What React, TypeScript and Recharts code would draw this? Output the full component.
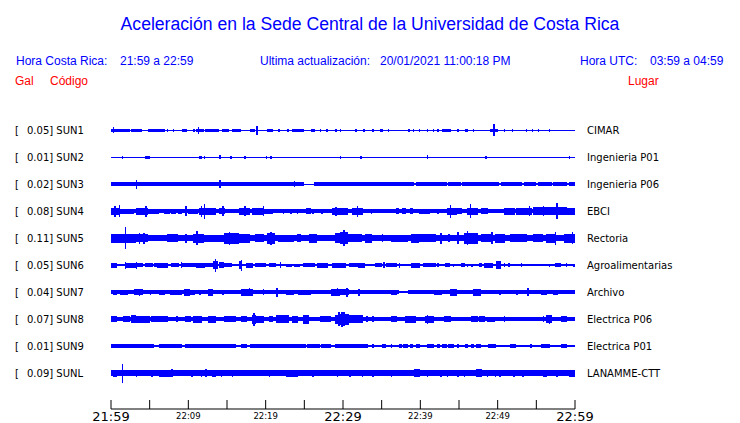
import { ComposedChart, Area, XAxis, YAxis } from "recharts";

// [from minute, to minute, half amplitude]; later entries override earlier ones
type Burst = [number, number, number];

const STATIONS = ["SUN1", "SUN2", "SUN3", "SUN4", "SUN5", "SUN6", "SUN7", "SUN8", "SUN9", "SUNL"];
const PEAKS = ["0.05", "0.01", "0.02", "0.08", "0.11", "0.05", "0.04", "0.07", "0.01", "0.09"];
const PLACES = [
  "CIMAR", "Ingenieria P01", "Ingenieria P06", "EBCI", "Rectoria",
  "Agroalimentarias", "Archivo", "Electrica P06", "Electrica P01", "LANAMME-CTT",
];
const BASE = [0.5, 0.5, 1.7, 1.7, 2.7, 1.2, 1.7, 2, 0.6, 2.7];

const SUN1: Burst[] = [
  [0, 0.9, 1.5], [0.3, 0.3, 3], [1.2, 2.2, 1.5], [2.5, 3.7, 1.5], [4.8, 6.7, 1.5], [7.2, 7.2, 1.5],
  [8.0, 8.0, 1.5], [9.2, 9.6, 1.5], [10.5, 10.5, 1.5], [11.1, 11.8, 1.5], [11.2, 11.2, 3.5],
  [12.2, 13.1, 1.5], [13.4, 13.8, 1.5], [14.4, 15.0, 1.5], [15.6, 16.3, 1.5], [16.7, 16.7, 1.5],
  [18.0, 18.4, 1.5], [18.9, 18.9, 4.5], [20.2, 20.8, 1.5], [21.6, 21.6, 1.5], [22.8, 22.8, 1.5],
  [23.4, 24.8, 1.5], [25.7, 26.1, 1.5], [27.0, 27.0, 1.5], [27.7, 27.7, 1.5], [29.0, 29.0, 1.5],
  [29.6, 29.6, 1.5], [31.5, 31.5, 1.5], [32.5, 32.5, 1.5], [33.9, 33.9, 1.5], [34.8, 35.0, 1.5],
  [35.7, 35.7, 1.5], [38.4, 38.4, 1.5], [39.0, 39.0, 1.5], [39.7, 39.7, 1.5], [40.7, 40.9, 1.5],
  [41.5, 41.5, 1.5], [42.2, 42.2, 1.5], [42.9, 43.8, 1.5], [44.7, 44.7, 1.5], [45.8, 46.0, 1.5],
  [46.8, 46.8, 1.5], [49.0, 49.8, 1.5], [49.4, 49.4, 6], [49.9, 49.9, 1.5], [50.8, 50.8, 1.5],
  [51.8, 51.8, 1.5], [53.5, 53.5, 1.5], [54.4, 54.4, 1.5], [55.1, 55.3, 1.5], [56.6, 56.6, 1.5],
  [59.9, 59.9, 1.5],
];
const SUN2: Burst[] = [
  [1.4, 1.4, 1.5], [4.4, 4.8, 1.5], [11.3, 11.6, 1.5], [12.0, 12.0, 1.5], [14.0, 14.0, 2],
  [15.4, 15.4, 1.5], [17.1, 17.1, 1.5], [20.0, 20.0, 1.5], [20.7, 20.7, 1.5], [29.5, 29.5, 1.5],
  [32.1, 32.1, 1.5], [40.9, 40.9, 2], [48.4, 48.4, 1.5], [59.2, 59.2, 1.5],
];
const SUN3: Burst[] = [
  [3.2, 3.2, 4.5], [14.0, 14.0, 4], [23.5, 23.5, 3], [25.0, 26.0, 0.5], [39.1, 39.1, 1],
  [43.4, 43.4, 1], [45.2, 45.2, 1], [50.3, 50.3, 1], [53.2, 53.2, 1], [55.0, 55.0, 1],
  [57.0, 57.0, 1], [59.0, 59.0, 1],
];
const SUN4: Burst[] = [
  [0, 1.2, 3.5], [0.4, 0.4, 5.5], [0.9, 0.9, 6], [1.2, 2.7, 2.5], [3.1, 4.8, 3.5], [4.4, 4.4, 5.5],
  [4.8, 6.1, 2.5], [6.8, 7.4, 2.5], [7.8, 8.2, 2.5], [8.6, 9.1, 2.5], [9.6, 9.6, 5],
  [10.0, 11.1, 2.5], [11.3, 13.4, 3.5], [11.7, 11.7, 5.5], [11.9, 11.9, 7.5], [13.9, 14.7, 3],
  [14.3, 14.3, 5], [16.5, 17.8, 3.5], [17.1, 17.1, 5], [18.2, 19.9, 3.5], [19.5, 19.5, 5],
  [19.9, 20.8, 2.5], [22.1, 22.1, 2.5], [23.1, 23.1, 2.5], [24.0, 24.0, 2.5], [25.1, 25.5, 3],
  [26.0, 26.0, 2.5], [27.2, 27.2, 2.5], [28.5, 30.3, 3.5], [29.0, 29.0, 4.5], [31.1, 32.4, 3.5],
  [31.7, 31.7, 5.5], [33.5, 33.5, 2.5], [36.7, 37.0, 3], [37.6, 38.0, 3], [38.5, 38.9, 3],
  [39.7, 41.0, 2.5], [42.1, 42.1, 2.5], [43.4, 44.5, 3.5], [43.8, 43.8, 6.5], [44.7, 45.3, 3],
  [46.0, 47.3, 3.5], [46.4, 46.4, 7], [47.7, 48.6, 3], [50.7, 52.0, 3.5], [52.4, 54.2, 3.5],
  [54.0, 54.0, 5], [54.6, 57.2, 4], [55.8, 55.8, 5], [57.2, 58.9, 4], [57.6, 57.6, 8],
  [58.9, 60, 3.5],
];
const SUN5: Burst[] = [
  [0, 1.8, 4.5], [1.8, 2.0, 11], [2.0, 3.1, 4.5], [3.1, 4.6, 4], [3.5, 3.5, 5.5], [4.2, 4.2, 5.5],
  [7.2, 8.3, 4], [9.6, 9.6, 4.5], [10.6, 12.1, 4.5], [11.1, 11.1, 7], [12.1, 14.3, 3.5],
  [14.5, 16.5, 5.5], [15.2, 15.2, 6.5], [16.5, 17.8, 4.5], [18.6, 19.5, 4], [20.1, 21.0, 5.5],
  [20.5, 20.5, 6.5], [21.6, 23.4, 3.5], [24.0, 24.4, 4], [25.5, 26.4, 4.5], [29.0, 30.3, 5],
  [29.6, 30.5, 6], [30.0, 30.0, 8], [30.5, 32.2, 4], [32.8, 33.5, 4.5], [35.0, 35.0, 4],
  [36.1, 38.2, 3.5], [38.7, 39.5, 4.5], [39.9, 41.7, 4], [42.5, 42.5, 5.5], [43.6, 43.6, 4],
  [44.9, 44.9, 6], [45.5, 47.3, 5.5], [46.0, 46.0, 7], [47.9, 49.0, 4], [49.2, 49.2, 6],
  [49.6, 50.7, 4.5], [51.6, 53.5, 4], [54.6, 55.5, 4], [56.3, 57.2, 4.5], [57.4, 57.4, 6.5],
  [58.5, 60, 4.5], [59.5, 59.5, 6],
];
const SUN6: Burst[] = [
  [0, 0.7, 2.5], [1.8, 3.1, 2.5], [1.8, 1.8, 3.5], [3.2, 3.2, 3.5], [3.4, 4.0, 2], [4.4, 5.2, 2],
  [5.5, 5.9, 2], [6.1, 7.2, 2.5], [7.8, 8.6, 2], [9.0, 10.0, 2], [8.9, 8.9, 3], [10.2, 10.9, 2],
  [11.1, 12.2, 2.5], [12.2, 13.0, 2], [13.2, 13.7, 4], [13.4, 13.4, 6.5], [13.9, 14.3, 3],
  [14.7, 15.4, 2], [16.5, 16.9, 4], [16.8, 16.8, 5.5], [17.3, 18.2, 2.5], [18.6, 19.9, 2],
  [20.3, 21.2, 2], [21.9, 21.9, 3], [22.7, 23.1, 1.5], [23.6, 24.2, 1.5], [24.9, 26.2, 2],
  [26.6, 27.7, 2.5], [28.5, 29.4, 2.5], [29.6, 30.2, 2.5], [30.7, 31.8, 2], [32.0, 32.6, 2.5],
  [34.3, 34.8, 2], [35.2, 35.2, 3], [35.6, 36.7, 2], [37.1, 37.1, 2.5], [38.9, 39.7, 2.5],
  [40.4, 41.7, 2], [42.1, 42.1, 2], [43.2, 43.6, 2], [44.3, 44.3, 1.5], [45.1, 45.5, 2],
  [46.0, 46.0, 1.5], [46.6, 46.6, 1.5], [47.5, 47.9, 2], [48.3, 49.2, 2.5], [49.9, 50.1, 4],
  [50.7, 50.7, 2], [51.4, 51.4, 2], [52.9, 52.9, 2], [56.5, 56.5, 1.5], [57.4, 58.0, 2],
  [58.8, 58.8, 2], [59.8, 59.8, 1.5],
];
const SUN7: Burst[] = [
  [0.1, 0.7, 2.5], [1.2, 2.0, 2.5], [3.0, 4.0, 3], [3.5, 3.5, 3.5], [5.0, 5.0, 2.5],
  [6.3, 6.8, 2.5], [7.6, 9.1, 2.5], [9.3, 10.0, 3.5], [10.2, 10.6, 2.5], [11.3, 11.3, 2.5],
  [12.6, 13.0, 3.5], [14.3, 14.3, 2.5], [16.9, 18.2, 3.5], [17.8, 17.8, 4], [19.5, 19.7, 3],
  [21.4, 21.4, 4.5], [22.7, 23.4, 2.5], [24.2, 25.5, 2.5], [28.3, 29.4, 3.5], [29.2, 29.2, 4],
  [29.6, 30.5, 3], [30.4, 30.4, 4.5], [32.0, 35.4, 2], [32.0, 32.0, 3.5], [36.1, 36.9, 2.5],
  [37.1, 38.2, 0.6], [38.4, 41.2, 2], [41.9, 42.5, 2.5], [43.8, 44.5, 3.5], [46.8, 47.5, 3.5],
  [48.1, 49.4, 2], [50.3, 50.3, 2.5], [52.4, 52.4, 2.5], [53.8, 53.8, 4], [55.5, 56.1, 2.5],
  [57.2, 57.6, 2.5], [58.0, 59.8, 2],
];
const SUN8: Burst[] = [
  [0, 0.5, 3], [1.6, 2.2, 3], [2.5, 3.3, 4], [3.1, 3.1, 5], [3.3, 4.8, 3.5], [5.3, 5.7, 3],
  [6.1, 7.2, 3], [8.3, 8.3, 3], [9.6, 10.2, 3], [10.6, 11.7, 3.5], [12.6, 13.4, 3.5],
  [14.5, 16.0, 3], [16.9, 17.3, 3], [18.2, 18.8, 4.5], [18.3, 18.3, 6.5], [18.8, 19.5, 3.5],
  [20.3, 20.8, 3], [21.4, 22.9, 4], [23.4, 24.0, 3.5], [24.9, 25.3, 4.5], [27.0, 28.1, 3],
  [29.0, 30.3, 4.5], [29.4, 29.4, 7], [29.6, 30.9, 5.5], [29.8, 29.8, 7.5], [30.0, 30.0, 7],
  [30.9, 32.4, 4], [33.0, 33.0, 3], [33.9, 33.9, 3], [36.3, 36.9, 3], [38.0, 39.3, 3.5],
  [40.6, 41.5, 3.5], [40.9, 40.9, 4.5], [43.0, 43.8, 3], [46.6, 47.3, 3], [47.5, 48.1, 3],
  [48.6, 49.4, 2.5], [50.9, 50.9, 3], [55.7, 55.7, 3], [56.3, 56.8, 4], [56.6, 56.6, 4.5],
  [58.3, 58.7, 3],
];
const SUN9: Burst[] = [
  [0, 5.4, 1.7], [6.3, 8.9, 1.7], [9.6, 16.0, 1.7], [16.9, 17.3, 1.7], [18.0, 19.5, 1.7],
  [19.9, 22.6, 1.7], [22.9, 25.0, 1.7], [25.3, 26.7, 1.7], [27.1, 28.2, 1.7], [29.0, 33.0, 1.7],
  [33.9, 33.9, 1.7], [35.0, 35.4, 1.7], [36.1, 36.1, 1.7], [37.1, 37.4, 1.7], [37.8, 38.1, 1.7],
  [38.6, 38.9, 1.7], [39.4, 39.9, 1.7], [40.8, 41.5, 1.7], [42.1, 42.4, 1.7], [42.8, 43.2, 1.7],
  [43.6, 44.1, 1.7], [44.7, 44.7, 1.7], [45.8, 46.0, 1.7], [46.6, 46.9, 1.7], [47.3, 47.5, 1.7],
  [48.8, 49.6, 1.7], [51.6, 52.3, 1.7], [54.2, 54.2, 1.7], [55.5, 56.5, 1.7], [58.3, 58.7, 1.7],
  [59.9, 60, 1.7],
];
const SUNL: Burst[] = [
  [0.1, 0.5, 3.5], [1.3, 1.3, 9.5], [3.1, 3.1, 3.5], [5.3, 5.3, 3.5], [6.3, 7.8, 3.5],
  [7.8, 7.8, 4], [10.4, 10.4, 3.5], [11.5, 11.5, 3.5], [12.2, 12.2, 4], [13.0, 13.4, 3.5],
  [14.1, 14.1, 3.5], [15.6, 15.6, 3.5], [20.3, 20.3, 3.5], [22.7, 24.0, 3.5], [26.0, 26.0, 3.5],
  [29.2, 29.2, 3.5], [30.7, 30.7, 3.5], [32.4, 32.4, 3.5], [33.9, 33.9, 3.5], [36.3, 36.3, 3.5],
  [39.3, 39.7, 4], [40.8, 40.8, 3.5], [42.5, 42.5, 3.5], [43.4, 43.4, 3.5], [44.9, 44.9, 3.5],
  [45.5, 45.5, 3.5], [47.1, 47.7, 4], [48.6, 48.6, 3.5], [49.6, 49.6, 3.5], [50.3, 50.3, 3.5],
  [52.0, 52.0, 3.5], [53.1, 53.1, 3.5], [55.7, 56.3, 3.5], [57.6, 57.6, 3.5], [59.1, 59.8, 3.5],
];
const BURSTS = [SUN1, SUN2, SUN3, SUN4, SUN5, SUN6, SUN7, SUN8, SUN9, SUNL];

const TIME_TICKS = [0, 5, 10, 15, 20, 25, 30, 35, 40, 45, 50, 55, 60];
const TIME_LABELS: Record<number, string> = {
  0: "21:59", 10: "22:09", 20: "22:19", 30: "22:29", 40: "22:39", 50: "22:49", 60: "22:59",
};
const BIG_LABELS = [0, 30, 60];

const STEP = 0.2; // minutes per sample
const SPACING = 27; // amplitude units between two traces
const BLUE = "#0000ff";

const rows: any[] = [];
for (let i = 0; i <= 60 / STEP; i++) {
  const row: any = { t: +(i * STEP).toFixed(2) };
  STATIONS.forEach((s, k) => {
    let a = BASE[k];
    for (const [from, to, amp] of BURSTS[k]) {
      if (i >= Math.round(from / STEP) && i <= Math.round(to / STEP)) a = amp;
    }
    const c = STATIONS.length - k;
    row[s] = [c - a / SPACING, c + a / SPACING];
  });
  rows.push(row);
}

function TimeTick({ x, y, payload }: any) {
  const v = payload.value;
  const label = TIME_LABELS[v];
  const big = BIG_LABELS.includes(v);
  return (
    <g>
      <line x1={x} x2={x} y1={y} y2={y - 9} stroke="#000" />
      {label && (
        <text
          x={x}
          y={y + (big ? 12 : 9.5)}
          textAnchor="middle"
          fontSize={big ? 13 : 8.5}
          fontFamily="DejaVu Sans"
          fill="#000"
        >
          {label}
        </text>
      )}
    </g>
  );
}

const abs = (left: number, top: number, extra: any = {}) => ({
  position: "absolute" as const,
  left,
  top,
  whiteSpace: "pre" as const,
  ...extra,
});

export default function App() {
  const head = { fontFamily: "'Liberation Sans', Arial, sans-serif", fontSize: 12, lineHeight: "14px", color: BLUE };
  const red = { ...head, color: "#ff0000" };
  const mono = { fontFamily: "'DejaVu Sans', sans-serif", fontSize: 10, lineHeight: "12px", color: "#000" };

  return (
    <div style={{ position: "absolute", left: 0, top: 0, width: 740, height: 423, background: "#fff", overflow: "hidden" }}>
      <style>{".recharts-area-area{shape-rendering:crispEdges}"}</style>
      <div
        style={{
          ...abs(0, 13.5),
          width: 740,
          textAlign: "center",
          fontFamily: "'Liberation Sans', Arial, sans-serif",
          fontSize: 17.6,
          lineHeight: "20px",
          color: BLUE,
        }}
      >
        Aceleración en la Sede Central de la Universidad de Costa Rica
      </div>

      <div style={{ ...abs(16, 54), ...head }}>Hora Costa Rica:</div>
      <div style={{ ...abs(120, 54), ...head }}>21:59 a 22:59</div>
      <div style={{ ...abs(260, 54), ...head }}>Ultima actualización:</div>
      <div style={{ ...abs(380, 54), ...head }}>20/01/2021 11:00:18 PM</div>
      <div style={{ ...abs(580, 54), ...head }}>Hora UTC:</div>
      <div style={{ ...abs(650, 54), ...head }}>03:59 a 04:59</div>

      <div style={{ ...abs(15, 74), ...red }}>Gal</div>
      <div style={{ ...abs(50, 74), ...red }}>Código</div>
      <div style={{ ...abs(628, 74), ...red }}>Lugar</div>

      {STATIONS.map((s, k) => (
        <div key={s}>
          <div style={{ ...abs(15, 124.5 + k * 27), ...mono }}>[</div>
          <div style={{ ...abs(27, 124.5 + k * 27), ...mono }}>{PEAKS[k]}] {s}</div>
          <div style={{ ...abs(587, 124.5 + k * 27), ...mono }}>{PLACES[k]}</div>
        </div>
      ))}

      <div style={{ position: "absolute", left: 0, top: 0 }}>
        <ComposedChart
          width={740}
          height={423}
          data={rows}
          margin={{ top: 103, right: 165, bottom: 0, left: 111 }}
        >
          <XAxis
            dataKey="t"
            type="number"
            domain={[0, 60]}
            ticks={TIME_TICKS}
            interval={0}
            height={14}
            tickSize={0}
            tickMargin={0}
            tickLine={false}
            axisLine={{ stroke: "#000" }}
            tick={<TimeTick />}
          />
          <YAxis hide type="number" domain={[-1 / 3, 11]} />
          {STATIONS.map((s) => (
            <Area
              key={s}
              dataKey={s}
              type="stepAfter"
              stroke="none"
              fill={BLUE}
              fillOpacity={1}
              isAnimationActive={false}
              dot={false}
              activeDot={false}
            />
          ))}
        </ComposedChart>
      </div>
    </div>
  );
}
